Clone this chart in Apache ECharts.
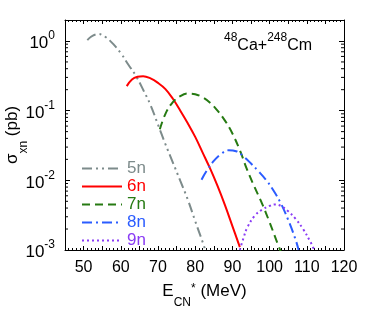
<!DOCTYPE html>
<html>
<head>
<meta charset="utf-8">
<script src="https://cdn.jsdelivr.net/npm/echarts@6/dist/echarts.min.js"></script>
<style>
  html, body { margin: 0; padding: 0; background: #fff; }
  #chart { width: 374px; height: 320px; }
</style>
</head>
<body>
<div id="chart"></div>
<script>
// excitation energy (MeV) and cross section (pb) per channel
var e5n = [51, 52, 53, 54, 55, 56, 57, 58, 60, 62, 64, 66, 68, 70, 72, 74, 76, 78, 80, 82, 83]
var s5n = [1.03, 1.15, 1.23, 1.26, 1.22, 1.13, 1.02, 0.9, 0.67, 0.46, 0.32, 0.2, 0.12, 0.063, 0.033, 0.018, 0.0098, 0.0053, 0.0026, 0.0013, 0.0009]
var e6n = [61.6, 63, 64.5, 66, 68, 70, 72, 74, 76, 78, 80, 82, 84, 86, 88, 90, 92]
var s6n = [0.225, 0.28, 0.306, 0.312, 0.29, 0.25, 0.204, 0.148, 0.1, 0.066, 0.042, 0.025, 0.0148, 0.0083, 0.0044, 0.0022, 0.0011]
var e7n = [70.5, 72, 74, 76, 78, 80, 82, 84, 86, 88, 90, 92, 94, 96, 98, 100, 102, 103]
var s7n = [0.054, 0.09, 0.133, 0.162, 0.176, 0.172, 0.155, 0.13, 0.1, 0.072, 0.047, 0.027, 0.014, 0.0079, 0.0046, 0.0025, 0.0013, 0.00095]
var e8n = [81.7, 83, 85, 87, 89, 91, 93, 95, 97, 99, 101, 103, 105, 107, 107.8]
var s8n = [0.0102, 0.0135, 0.019, 0.024, 0.027, 0.0262, 0.022, 0.0174, 0.0135, 0.0102, 0.0072, 0.0047, 0.0027, 0.0014, 0.001]
var e9n = [92, 93, 94, 96, 98, 100, 101.5, 103, 105, 107, 109, 111, 112]
var s9n = [0.001, 0.0015, 0.0021, 0.0031, 0.0038, 0.0043, 0.0045, 0.0043, 0.0036, 0.0028, 0.002, 0.0013, 0.001]

var channels = ['5n', '6n', '7n', '8n', '9n']
var colors = ['#7d8b8b', '#ff0000', '#267a12', '#2b5cff', '#8a3cf5']
var dashes = [[10, 4, 2, 4, 2, 4], 'solid', [8, 5], [10, 4, 2, 4], [2, 3]]
var energies = [e5n, e6n, e7n, e8n, e9n]
var sigmas = [s5n, s6n, s7n, s8n, s9n]

// log-axis minor ticks (2..9 inside each decade)
var mantissas = [2, 3, 4, 5, 6, 7, 8, 9]
var decades = [0.001, 0.01, 0.1, 1]
var minorTicks = []
decades.forEach(function (d) {
  mantissas.forEach(function (m) {
    var v = +(m * d).toPrecision(3)
    if (v < 2) minorTicks.push([45, v])
  })
})

var font = 'Liberation Sans, Arial, Helvetica, sans-serif'

function pow10Label (v) {
  var p = Math.log10(v)
  if (Math.abs(p - Math.round(p)) > 1e-6) return ''
  return '{b|10}{s|' + Math.round(p) + '}'
}

var chart = echarts.init(document.getElementById('chart'))

var series = channels.map(function (name, i) {
  return {
    name: name,
    type: 'line',
    smooth: 0.4,
    symbol: 'none',
    xAxisIndex: 0,
    yAxisIndex: 0,
    data: energies[i].map(function (e, k) { return [e, sigmas[i][k]] }),
    lineStyle: { color: colors[i], width: 2, type: dashes[i] },
    itemStyle: { color: colors[i] },
    z: 3
  }
})

series.push({
  type: 'custom',
  silent: true,
  xAxisIndex: 0,
  yAxisIndex: 0,
  data: minorTicks,
  encode: { x: 0, y: 1 },
  clip: false,
  z: 5,
  renderItem: function (params, api) {
    var p = api.coord([api.value(0), api.value(1)])
    var cs = params.coordSys
    return {
      type: 'group',
      children: [
        { type: 'line', shape: { x1: cs.x, y1: p[1], x2: cs.x + 3, y2: p[1] }, style: { stroke: '#000', lineWidth: 1 } },
        { type: 'line', shape: { x1: cs.x + cs.width - 3, y1: p[1], x2: cs.x + cs.width, y2: p[1] }, style: { stroke: '#000', lineWidth: 1 } }
      ]
    }
  }
})

var xCommon = {
  type: 'value',
  min: 45,
  max: 120,
  interval: 5,
  splitLine: { show: false },
  axisLine: { show: true, onZero: false, lineStyle: { color: '#000', width: 1 } },
  axisTick: { show: true, inside: true, length: 4, lineStyle: { color: '#000' } },
  minorTick: { show: true, splitNumber: 5, length: 2, lineStyle: { color: '#000' } },
  minorSplitLine: { show: false }
}

var yCommon = {
  type: 'log',
  logBase: 10,
  min: 0.001,
  max: 2,
  splitLine: { show: false },
  axisLine: { show: true, onZero: false, lineStyle: { color: '#000', width: 1 } },
  axisTick: { show: true, inside: true, length: 5, lineStyle: { color: '#000' } },
  minorTick: { show: false }
}

var normal = { color: '#000', fontFamily: font, fontWeight: 'normal' }

chart.setOption({
  animation: false,
  textStyle: { fontFamily: font },
  title: {
    text: '{s|48}{b|Ca+}{s|248}{b|Cm}',
    left: 219,
    top: 27,
    textStyle: {
      fontWeight: 'normal',
      rich: {
        b: Object.assign({ fontSize: 16, lineHeight: 22, verticalAlign: 'bottom' }, normal),
        s: Object.assign({ fontSize: 12, lineHeight: 22, verticalAlign: 'top' }, normal)
      }
    }
  },
  grid: { left: 65, right: 30, top: 20, bottom: 70, outerBoundsMode: 'none', containLabel: false },
  legend: {
    orient: 'vertical',
    left: 76,
    top: 155,
    itemWidth: 40,
    itemHeight: 14,
    itemGap: 1,
    itemStyle: { opacity: 0 },
    textStyle: { fontSize: 17, fontFamily: font },
    data: channels.map(function (name, i) {
      return { name: name, textStyle: { color: colors[i] } }
    })
  },
  xAxis: [
    Object.assign({}, xCommon, {
      position: 'bottom',
      axisLabel: {
        margin: 10,
        fontSize: 16,
        color: '#000',
        fontFamily: font,
        formatter: function (v) { return v % 10 === 0 ? String(v) : '' }
      },
      name: '{a|E}{sub|CN}{sup|*}{a| (MeV)}',
      nameLocation: 'middle',
      nameGap: 33,
      nameMoveOverlap: false,
      nameTextStyle: {
        rich: {
          a: Object.assign({ fontSize: 17, lineHeight: 22, verticalAlign: 'top' }, normal),
          sub: Object.assign({ fontSize: 12, lineHeight: 26, verticalAlign: 'bottom' }, normal),
          sup: Object.assign({ fontSize: 12, lineHeight: 18, verticalAlign: 'top' }, normal)
        }
      }
    }),
    Object.assign({}, xCommon, {
      position: 'top',
      axisLabel: { show: false }
    })
  ],
  yAxis: [
    Object.assign({}, yCommon, {
      position: 'left',
      axisLabel: {
        margin: 10,
        color: '#000',
        formatter: pow10Label,
        rich: {
          b: Object.assign({ fontSize: 17, lineHeight: 22, verticalAlign: 'bottom' }, normal),
          s: Object.assign({ fontSize: 12, lineHeight: 22, verticalAlign: 'top' }, normal)
        }
      },
      name: '{a|σ}{sub|xn}{a| (pb)}',
      nameLocation: 'middle',
      nameRotate: 90,
      nameGap: 35,
      nameMoveOverlap: false,
      nameTextStyle: {
        rich: {
          a: Object.assign({ fontSize: 17, lineHeight: 22, verticalAlign: 'top' }, normal),
          sub: Object.assign({ fontSize: 12, lineHeight: 26, verticalAlign: 'bottom' }, normal)
        }
      }
    }),
    Object.assign({}, yCommon, {
      position: 'right',
      axisLabel: { show: false }
    })
  ],
  series: series
})
</script>
</body>
</html>
